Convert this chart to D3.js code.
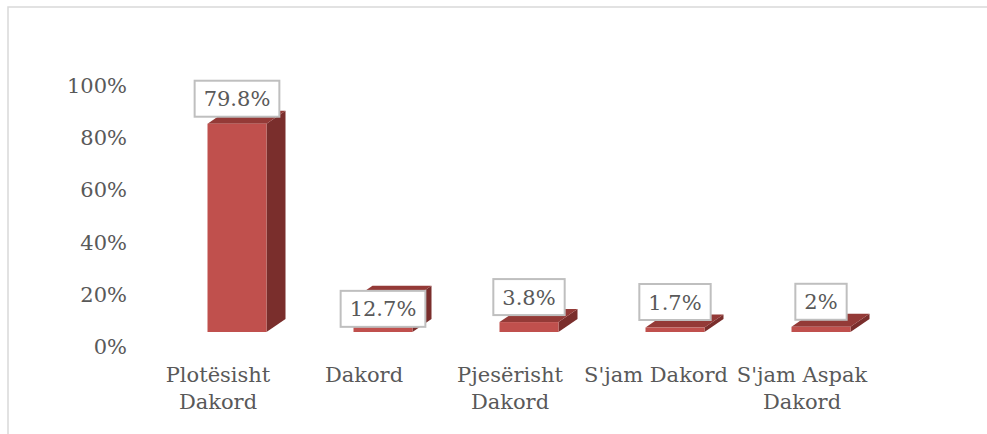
<!DOCTYPE html>
<html>
<head>
<meta charset="utf-8">
<script src="https://cdn.jsdelivr.net/npm/d3@7"></script>
<style>
  html, body { margin: 0; padding: 0; background: #fff; }
  svg { display: block; }
</style>
</head>
<body>
<div id="chart"></div>
<script>
// data
var categories = ['Plotësisht Dakord', 'Dakord', 'Pjesërisht Dakord', "S'jam Dakord", "S'jam Aspak Dakord"];
var values = [0.798, 0.127, 0.038, 0.017, 0.02];
var valueLabels = ['79.8%', '12.7%', '3.8%', '1.7%', '2%'];
var yTicks = [0, 0.2, 0.4, 0.6, 0.8, 1.0];

var width = 987;
var height = 434;
var font = '"DejaVu Serif", serif';
var textColor = '#595959';

// 3d depth offsets
var dx = 19, dy = 13;
var floorY = 332;

var svg = d3.select('#chart').append('svg')
  .attr('width', width)
  .attr('height', height);

// chart border
svg.append('rect')
  .attr('x', 8).attr('y', 7)
  .attr('width', width + 20).attr('height', height + 20)
  .attr('fill', 'none')
  .attr('stroke', '#d9d9d9')
  .attr('stroke-width', 1.5);

var y = d3.scaleLinear().domain([0, 1]).range([346, 85]);
var x = d3.scaleBand().domain(categories).range([164, 894]);
var barW = 59;

// y axis labels
var yAxis = d3.axisLeft(y)
  .tickValues(yTicks)
  .tickFormat(d3.format('.0%'))
  .tickSize(0)
  .tickPadding(0);

var ga = svg.append('g')
  .attr('transform', 'translate(127,0)')
  .call(yAxis);
ga.select('.domain').remove();
ga.selectAll('text')
  .attr('font-family', font)
  .attr('font-size', 21)
  .attr('fill', textColor)
  .attr('dy', '0.36em');

// bars
var bars = svg.append('g').selectAll('g')
  .data(categories)
  .enter().append('g');

bars.each(function(c, i) {
  var g = d3.select(this);
  var h = y(0) - y(values[i]);
  var x0 = x(c) + x.bandwidth() / 2 - barW / 2;
  var x1 = x0 + barW;
  var top = floorY - h;

  // side
  g.append('path')
    .attr('d', 'M' + x1 + ',' + floorY + 'L' + (x1 + dx) + ',' + (floorY - dy) +
      'L' + (x1 + dx) + ',' + (top - dy) + 'L' + x1 + ',' + top + 'Z')
    .attr('fill', '#7a2e2c');
  // top
  g.append('path')
    .attr('d', 'M' + x0 + ',' + top + 'L' + x1 + ',' + top +
      'L' + (x1 + dx) + ',' + (top - dy) + 'L' + (x0 + dx) + ',' + (top - dy) + 'Z')
    .attr('fill', '#943a37');
  // front
  g.append('rect')
    .attr('x', x0).attr('y', top)
    .attr('width', barW).attr('height', h)
    .attr('fill', '#c0504d');
});

// value labels (boxed)
var labelNudge = [0, 35, 0, 0, 0];
var lab = svg.append('g').selectAll('g')
  .data(categories)
  .enter().append('g');

lab.each(function(c, i) {
  var g = d3.select(this);
  var h = y(0) - y(values[i]);
  var cx = x(c) + x.bandwidth() / 2;
  var top = floorY - h;
  var cy = Math.min(top - 25, 302) + labelNudge[i];
  var t = g.append('text')
    .attr('x', cx).attr('y', cy)
    .attr('text-anchor', 'middle')
    .attr('dy', '0.36em')
    .attr('font-family', font)
    .attr('font-size', 21)
    .attr('fill', textColor)
    .text(valueLabels[i]);
  var w = t.node().getComputedTextLength() + 18;
  g.insert('rect', 'text')
    .attr('x', cx - w / 2).attr('y', cy - 18)
    .attr('width', w).attr('height', 36)
    .attr('fill', '#fff')
    .attr('stroke', '#bfbfbf')
    .attr('stroke-width', 2);
});

// category labels, wrapped
var cat = svg.append('g').selectAll('text')
  .data(categories)
  .enter().append('text')
  .attr('text-anchor', 'middle')
  .attr('font-family', font)
  .attr('font-size', 21)
  .attr('fill', textColor);

cat.each(function(c) {
  var t = d3.select(this);
  var cx = x(c) + x.bandwidth() / 2 - 19;
  var words = c.split(' ');
  var lines = [];
  var line = [];
  words.forEach(function(wd) {
    line.push(wd);
    t.text(line.join(' '));
    if (t.node().getComputedTextLength() > 146 && line.length > 1) {
      line.pop();
      lines.push(line.join(' '));
      line = [wd];
    }
  });
  lines.push(line.join(' '));
  t.text(null);
  lines.forEach(function(l, k) {
    t.append('tspan')
      .attr('x', cx)
      .attr('y', 382 + k * 27)
      .text(l);
  });
});
</script>
</body>
</html>
